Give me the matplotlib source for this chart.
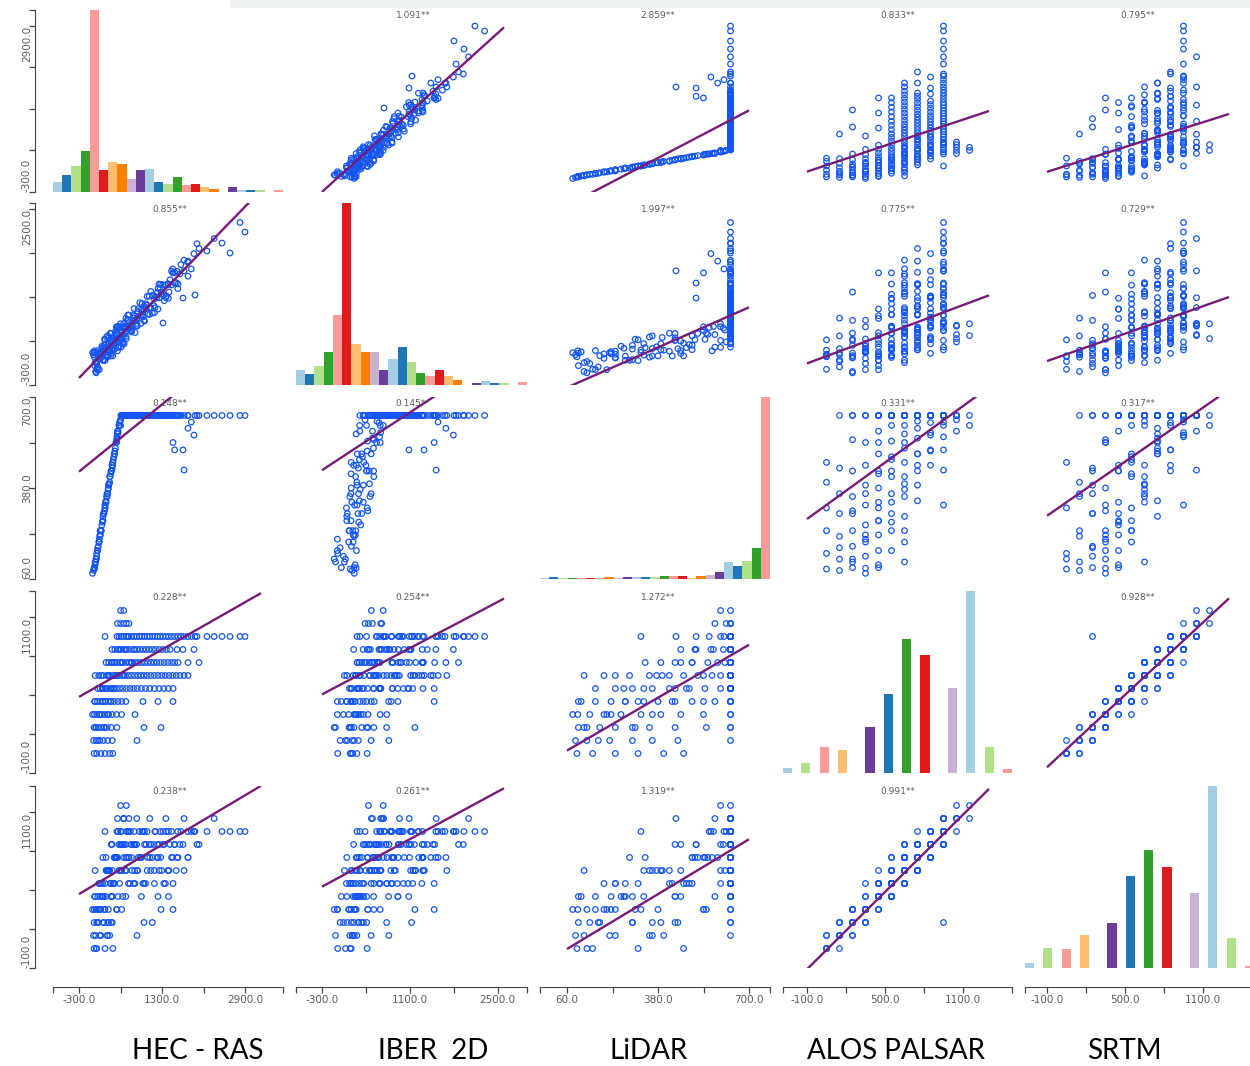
import numpy as np
import matplotlib
matplotlib.use("Agg")
import matplotlib.pyplot as plt
from matplotlib import transforms
from matplotlib.patches import Rectangle

# ---------------------------------------------------------------- data
# Elevation samples (one row per cross-section point), grouped by ALOS level,
# followed by a block of additional low-lying points.
HEC = [
    -10, 40, 120, 200, 290, 350,
    -20, 30, 100, 170, 250, 340, 815,
    -10, 20, 70, 120, 180, 240, 320, 430, 950, 1277,
    -5, 40, 90, 140, 200, 270, 340, 420, 520, 777,
    10, 55, 105, 155, 210, 265, 320, 380, 450, 520, 600, 930, 1219, 1508,
    105, 170, 240, 300, 360, 420, 480, 540, 610, 680, 750, 820, 900, 980, 1060, 1150, 1240, 1330, 1420, 1508,
    10, 80, 160, 230, 290, 350, 410, 470, 530, 590, 650, 710, 770, 830, 890, 950, 1010, 1080, 1150, 1220, 1290, 1360, 1430, 1500, 1570, 1640, 1720, 1796,
    220, 270, 320, 380, 430, 490, 540, 600, 660, 720, 780, 840, 900, 960, 1020, 1080, 1140, 1200, 1270, 1340, 1410, 1480, 1540, 1604, 1796, 2008,
    335, 390, 450, 510, 570, 630, 690, 750, 810, 870, 930, 990, 1050, 1110, 1170, 1240, 1310, 1380, 1450, 1585, 1700, 1911,
    200, 431, 470, 510, 560, 610, 660, 710, 760, 810, 860, 910, 960, 1010, 1060, 1110, 1160, 1210, 1260, 1315, 1370, 1420, 1480, 1540, 1600, 1660, 1720, 1790, 1860, 1930, 1969, 2161, 2300, 2450, 2604, 2796, 2892,
    440, 500, 560, 610, 660,
    500, 560,
    -40, 0, 30, 60, 90, 130, 160, 190, 220, 250, 280, 310, 340, 370, 400, 60, 110, 150, 200, 260, 320, 380, 440, 480, 520, 560, 600, 640, 700, 760,
]
IBER = [
    150, -50, 190, 420, 255, 165,
    181, 74, 214, 103, 482, 279, 765,
    209, -85, 168, 131, 332, 143, 412, 526, 730, 1180,
    244, 42, -55, 318, 219, 359, 249, 627, 433, 732,
    227, -55, 198, 161, 358, 165, 412, 483, 303, 533, 761, 803, 910, 1487,
    138, 273, 163, 525, 296, 427, 628, 360, 630, 609, 819, 639, 908, 996, 824, 1071, 1308, 1145, 1082, 1487,
    57, 196, 95, 465, 236, 367, 569, 300, 561, 533, 734, 545, 797, 868, 679, 900, 1112, 932, 851, 1241, 1151, 1291, 1181, 1551, 1331, 1470, 1689, 1434,
    296, 259, 452, 263, 506, 577, 380, 601, 813, 624, 535, 916, 818, 949, 830, 1192, 963, 1094, 1304, 1044, 1314, 1294, 1495, 1310, 1674, 1875,
    204, 422, 633, 444, 356, 737, 638, 769, 651, 1012, 783, 915, 1116, 847, 1109, 1088, 1298, 1118, 1378, 1513, 1086, 1793,
    259, 617, 410, 304, 677, 570, 693, 565, 918, 681, 804, 996, 719, 972, 935, 1127, 930, 1173, 1236, 688, 1090, 1302, 1514, 1325, 1236, 1618, 1519, 1659, 1549, 1134, 1952, 1836, 2035, 1962, 1803, 2290, 2137,
    504, 386, 637, 440, 652,
    676, 487,
    214, 8, -106, 249, 125, 239, 95, 430, 176, 282, 457, 163, 399, 344, 520, -11, 232, 286, 89, 310, 522, 333, 244, 608, 493, 607, 471, 815, 587, 718,
]
LIDAR = [
    95, 150, 230, 310, 400, 470,
    90, 130, 210, 290, 360, 450, 635,
    100, 120, 175, 230, 290, 350, 440, 550, 635, 635,
    98, 140, 200, 250, 320, 390, 460, 540, 635, 635,
    110, 160, 215, 265, 330, 380, 440, 500, 580, 635, 635, 635, 635, 540,
    230, 290, 360, 420, 480, 545, 600, 635, 635, 635, 635, 635, 635, 635, 635, 635, 635, 635, 635, 635,
    120, 190, 280, 350, 420, 470, 540, 600, 635, 635, 635, 635, 635, 635, 635, 635, 635, 635, 635, 635, 635, 635, 635, 635, 635, 635, 635, 635,
    335, 390, 440, 500, 555, 615, 635, 635, 635, 635, 635, 635, 635, 635, 635, 635, 635, 635, 635, 635, 635, 635, 635, 635, 590, 635,
    460, 510, 575, 635, 635, 635, 635, 635, 635, 635, 635, 635, 635, 635, 635, 635, 635, 635, 635, 635, 514, 566,
    320, 560, 600, 635, 635, 635, 635, 635, 635, 635, 635, 635, 635, 635, 635, 635, 635, 635, 635, 635, 635, 635, 635, 514, 635, 635, 443, 635, 612, 635, 635, 635, 635, 635, 635, 635, 635,
    580, 620, 635, 635, 635,
    600, 635,
    80, 100, 130, 160, 190, 230, 265, 300, 330, 360, 395, 430, 460, 490, 520, 170, 215, 260, 310, 375, 440, 500, 570, 610, 635, 635, 635, 635, 635, 635,
]
ALOS = [
    50, 50, 50, 50, 50, 50,
    150, 150, 150, 150, 150, 150, 150,
    250, 250, 250, 250, 250, 250, 250, 250, 250, 250,
    350, 350, 350, 350, 350, 350, 350, 350, 350, 350,
    450, 450, 450, 450, 450, 450, 450, 450, 450, 450, 450, 450, 450, 450,
    550, 550, 550, 550, 550, 550, 550, 550, 550, 550, 550, 550, 550, 550, 550, 550, 550, 550, 550, 550,
    650, 650, 650, 650, 650, 650, 650, 650, 650, 650, 650, 650, 650, 650, 650, 650, 650, 650, 650, 650, 650, 650, 650, 650, 650, 650, 650, 650,
    750, 750, 750, 750, 750, 750, 750, 750, 750, 750, 750, 750, 750, 750, 750, 750, 750, 750, 750, 750, 750, 750, 750, 750, 750, 750,
    850, 850, 850, 850, 850, 850, 850, 850, 850, 850, 850, 850, 850, 850, 850, 850, 850, 850, 850, 850, 850, 850,
    950, 950, 950, 950, 950, 950, 950, 950, 950, 950, 950, 950, 950, 950, 950, 950, 950, 950, 950, 950, 950, 950, 950, 950, 950, 950, 950, 950, 950, 950, 950, 950, 950, 950, 950, 950, 950,
    1050, 1050, 1050, 1050, 1050,
    1150, 1150,
    350, 450, 250, 550, 350, 650, 450, 250, 550, 350, 650, 450, 750, 550, 650, 150, 350, 550, 450, 650, 550, 750, 650, 850, 750, 650, 850, 950, 750, 850,
]
SRTM = [
    50, 50, 150, 50, 150, 50,
    150, 50, 150, 250, 150, 250, 150,
    250, 150, 250, 350, 250, 150, 250, 350, 250, 350,
    350, 250, 350, 450, 350, 250, 450, 350, 350, 550,
    450, 350, 450, 550, 450, 350, 450, 550, 450, 650, 450, 550, 450, 350,
    550, 450, 650, 550, 550, 750, 550, 450, 650, 550, 550, 650, 450, 550, 750, 550, 650, 550, 450, 550,
    650, 550, 750, 650, 650, 550, 750, 650, 850, 650, 550, 750, 650, 650, 750, 550, 650, 850, 650, 750, 650, 550, 650, 750, 650, 850, 650, 750,
    750, 650, 850, 750, 750, 650, 850, 750, 750, 650, 850, 750, 750, 950, 750, 650, 850, 750, 750, 850, 650, 750, 850, 750, 750, 850,
    850, 750, 950, 850, 850, 750, 950, 850, 850, 750, 950, 850, 850, 750, 950, 850, 850, 950, 850, 750, 850, 950,
    950, 950, 850, 950, 1050, 950, 950, 850, 950, 1050, 950, 950, 850, 950, 1050, 250, 950, 850, 950, 950, 1050, 950, 950, 850, 950, 950, 1050, 950, 950, 950, 850, 950, 1050, 950, 950, 950, 950,
    1050, 950, 1050, 1150, 1050,
    1150, 1050,
    350, 450, 350, 450, 350, 550, 450, 350, 650, 250, 650, 550, 650, 550, 750, 250, 350, 450, 550, 650, 450, 750, 750, 850, 650, 750, 850, 950, 850, 850,
]

NAMES = ["HEC - RAS", "IBER  2D", "LiDAR", "ALOS PALSAR", "SRTM"]
RANGE_LO = [-300, -300, 60, -100, -100]
RANGE_HI = [3200, 2600, 700, 1300, 1300]
TICKS = [
    [-300, 500, 1300, 2100, 2900],
    [-300, 400, 1100, 1800, 2500],
    [60, 220, 380, 540, 700],
    [-100, 200, 500, 800, 1100],
    [-100, 200, 500, 800, 1100],
]

# Regression slopes (row variable on column variable) and intercepts
SLOPE = [
    [None, 1.091, 2.859, 0.833, 0.795],
    [0.855, None, 1.997, 0.775, 0.729],
    [0.148, 0.145, None, 0.331, 0.317],
    [0.228, 0.254, 1.272, None, 0.928],
    [0.238, 0.261, 1.319, 0.991, None],
]
INTERCEPT = [
    [None, 29, -732, 175, 167],
    [68.5, None, -460, 121, 154],
    [482, 486, None, 304, 314],
    [554, 581, -4, None, 37],
    [540, 604, -33, -10.5, None],
]

# Histogram bar heights (25 bins) on the diagonal
HIST = [
    [10, 17, 26, 41, 181, 22, 30, 28, 13, 22, 23, 10, 8, 15, 7, 8, 5, 3, 0, 5, 2, 2, 2, 0, 2],
    [15, 11, 19, 33, 70, 181, 41, 33, 33, 15, 26, 38, 23, 12, 9, 15, 9, 5, 0, 2, 4, 2, 2, 0, 3],
    [1, 2, 1, 1, 1, 1, 1, 2, 1, 2, 2, 2, 2, 3, 3, 3, 1, 3, 4, 7, 17, 13, 18, 31, 180],
    [5, 0, 10, 0, 26, 0, 23, 0, 0, 46, 0, 79, 0, 133, 0, 117, 0, 0, 85, 0, 181, 0, 26, 0, 4],
    [5, 0, 20, 0, 19, 0, 33, 0, 0, 46, 0, 93, 0, 119, 0, 102, 0, 0, 76, 0, 184, 0, 30, 0, 2],
]

PAIRED = ["#A6CEE3", "#1F78B4", "#B2DF8A", "#33A02C", "#FB9A99",
          "#E31A1C", "#FDBF6F", "#FF7F00", "#CAB2D6", "#6A3D9A"]

# ---------------------------------------------------------------- layout (pixels)
W, H = 1250, 1066
COL_BOX = [(53, 283), (296, 527), (540, 770), (783, 1012), (1025, 1254)]
COL_CORE = [79, 322, 567, 807, 1047]
CORE = 182
ROW_BOX = [(10, 192), (203, 385), (397, 579), (591, 773), (786, 968)]

AX_COLOR = "#454545"
TXT_COLOR = "#5c5c5c"
PT_COLOR = "#1556f0"
LINE_COLOR = "#761c78"

fig = plt.figure(figsize=(W / 100, H / 100), dpi=100)


def fbox(xs, ys):
    (x0, x1), (y0, y1) = xs, ys
    return [x0 / W, 1 - y1 / H, (x1 - x0) / W, (y1 - y0) / H]


def xlim_for(j):
    u = (RANGE_HI[j] - RANGE_LO[j]) / CORE
    x0, x1 = COL_BOX[j]
    return (RANGE_LO[j] + (x0 - COL_CORE[j]) * u,
            RANGE_LO[j] + (x1 - COL_CORE[j]) * u)


data = [np.array(v, dtype=float) for v in (HEC, IBER, LIDAR, ALOS, SRTM)]

# faint strip from the page behind the figure
fig.patches.append(Rectangle((230 / W, 1 - 7 / H), 1020 / W, 7 / H,
                             transform=fig.transFigure, color="#eef1f1", zorder=0))

for i in range(5):
    for j in range(5):
        ax = fig.add_axes(fbox(COL_BOX[j], ROW_BOX[i]))
        ax.set_axis_off()
        if i == j:
            counts = HIST[i]
            ax.bar(np.arange(len(counts)), counts, width=1.0, align="edge",
                   color=[PAIRED[k % 10] for k in range(len(counts))],
                   edgecolor="none")
            ax.set_xlim(0, len(counts))
            ax.set_ylim(0, max(counts))
            continue
        ax.set_xlim(*xlim_for(j))
        ax.set_ylim(RANGE_LO[i], RANGE_HI[i])
        ax.scatter(data[j], data[i], s=16, facecolors="none",
                   edgecolors=PT_COLOR, linewidths=0.9, zorder=2)
        xs = np.array([RANGE_LO[j], RANGE_HI[j]], dtype=float)
        ax.plot(xs, INTERCEPT[i][j] + SLOPE[i][j] * xs, color=LINE_COLOR,
                lw=1.7, zorder=3, solid_capstyle="butt")
        tr = transforms.blended_transform_factory(ax.transData, ax.transAxes)
        ax.text((RANGE_LO[j] + RANGE_HI[j]) / 2, 1 - 6 / CORE,
                f"{SLOPE[i][j]:.3f}**", transform=tr, ha="center", va="center",
                fontsize=6.5, color=TXT_COLOR, zorder=4)

# left axes (one per row)
Y_LABEL_IDX = [[0, 4], [0, 4], [0, 2, 4], [0, 4], [0, 4]]
for i in range(5):
    ax = fig.add_axes(fbox(COL_BOX[0], ROW_BOX[i]), facecolor="none")
    for side in ("top", "right", "bottom"):
        ax.spines[side].set_visible(False)
    ax.spines["left"].set_position(("outward", 13))
    ax.spines["left"].set_color(AX_COLOR)
    ax.set_ylim(RANGE_LO[i], RANGE_HI[i])
    ax.set_yticks(sorted(set(TICKS[i] + [RANGE_LO[i], RANGE_HI[i]])))
    ax.set_yticklabels([])
    ax.set_xticks([])
    ax.tick_params(axis="y", direction="out", length=4, width=0.9, color=AX_COLOR)
    tr = transforms.blended_transform_factory(fig.transFigure, ax.transData)
    for k in Y_LABEL_IDX[i]:
        va = {0: "bottom", 4: "top"}.get(k, "center")
        ax.text(27 / W, TICKS[i][k], f"{TICKS[i][k]:.1f}", transform=tr,
                rotation=90, ha="center", va=va, fontsize=7.5, color=TXT_COLOR)

# bottom axes (one per column)
for j in range(5):
    ax = fig.add_axes(fbox(COL_BOX[j], ROW_BOX[4]), facecolor="none")
    for side in ("top", "right", "left"):
        ax.spines[side].set_visible(False)
    ax.spines["bottom"].set_position(("outward", 14))
    ax.spines["bottom"].set_color(AX_COLOR)
    lo, hi = xlim_for(j)
    ax.set_xlim(lo, hi)
    ax.set_xticks(sorted(set(TICKS[j] + [lo, hi])))
    ax.set_xticklabels([])
    ax.set_yticks([])
    ax.tick_params(axis="x", direction="out", length=4, width=0.9, color=AX_COLOR)
    tr = transforms.blended_transform_factory(ax.transData, fig.transFigure)
    for k in (0, 2, 4):
        ax.text(TICKS[j][k], 1 - 1000 / H, f"{TICKS[j][k]:.1f}", transform=tr,
                ha="center", va="center", fontsize=7.5, color=TXT_COLOR)

NAME_X = [198, 433, 649, 896, 1124]
for name, x in zip(NAMES, NAME_X):
    fig.text(x / W, 1 - 1051 / H, name, ha="center", va="center",
             fontsize=20, family="Lato", color="black")

fig.savefig("out.png", dpi=100)
